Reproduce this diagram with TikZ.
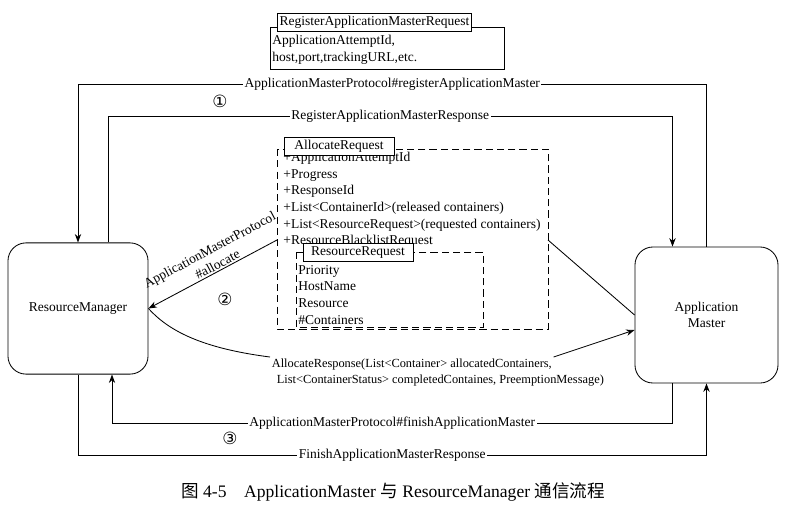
\documentclass[tikz,border=0pt]{standalone}
\usepackage{fontspec}
\setmainfont{Liberation Serif}
\newfontfamily\cjkfont{Noto Sans CJK SC}
\newfontfamily\circfont{DejaVu Sans}
\usetikzlibrary{arrows.meta,calc}

\tikzset{
  lbl/.style={fill=white, inner sep=1pt},
  hostbox/.style={draw, rounded corners=0.45cm, align=center},
  titlebox/.style={draw, fill=white, inner sep=1.5pt, minimum height=0.45cm},
  dashbox/.style={dash pattern=on 5pt off 3pt},
  body/.style={anchor=north west, align=left, inner sep=0pt},
  resptext/.style={anchor=north west, inner sep=1pt, font=\fontsize{8.8}{11}\selectfont},
  stepnum/.style={font=\circfont\fontsize{12}{14}\selectfont},
}

\begin{document}
\begin{tikzpicture}[x=0.025cm, y=-0.025cm, >={Stealth[length=6pt,width=4.5pt]}, line width=0.6pt,
    font=\fontsize{9.6}{11.8}\selectfont]
    \useasboundingbox (0,0) rectangle (792,508);

    % Hosts
    \node[hostbox, minimum width=3.5cm, minimum height=3.28cm] (rm) at (78,308.5) {ResourceManager};
    \node[hostbox, minimum width=3.575cm, minimum height=3.4cm] (am) at (706.5,315) {Application\\Master};

    % Step 1: register
    \draw (270,27) rectangle (504,69);
    \node[body] (regbody) at (272,35) {ApplicationAttemptId,\\host,port,trackingURL,etc.};
    \node[titlebox] (regtitle) at (374.5,22) {RegisterApplicationMasterRequest};

    \draw[->] (am.north) -- ++(0,-162) -| node[lbl, pos=0.25] {ApplicationMasterProtocol\#registerApplicationMaster} (rm.north);
    \draw[->] ($(rm.north)+(30,0)$) -- ++(0,-126) -| node[lbl, pos=0.25] {RegisterApplicationMasterResponse} ($(am.north)+(-34,0)$);
    \node[stepnum] (one) at (220,101) {①};

    % Step 2: allocate
    \draw[dashbox] (277,149) rectangle (548,329);
    \node[body] (allocbody) at (283,152) {+ApplicationAttemptId\\+Progress\\+ResponseId\\+List<ContainerId>(released containers)\\+List<ResourceRequest>(requested containers)\\+ResourceBlacklistRequest};
    \node[titlebox, minimum width=2.75cm] (alloctitle) at (339,146) {AllocateRequest};

    \draw[dashbox] (296,252) rectangle (483,327);
    \node[body] (resbody) at (298,265) {Priority\\HostName\\Resource\\\#Containers};
    \node[titlebox, minimum width=2.75cm] (restitle) at (358,252.5) {ResourceRequest};

    \coordinate (allocin) at (277,240);
    \coordinate (allocout) at (548,240);
    \draw[->] (allocin) -- node[sloped, above, pos=0.44, align=center, inner sep=1pt] {ApplicationMasterProtocol\\\#allocate} (rm.east);
    \draw (allocout) -- (am.west);
    \node[stepnum] (two) at (225,299) {②};

    \node[resptext] (resp1) at (270,357) {AllocateResponse(List<Container> allocatedContainers,};
    \node[resptext] (resp2) at (275,373) {List<ContainerStatus> completedContaines, PreemptionMessage)};
    \draw (rm.east) .. controls (168,330) and (200,348) .. (resp1.north west);
    \draw[->] (resp1.north east) -- ($(am.west)+(0,15)$);

    % Step 3: finish
    \draw[->] ($(am.south)+(-34,0)$) -- ++(0,40) -| node[lbl, pos=0.25] {ApplicationMasterProtocol\#finishApplicationMaster} ($(rm.south)+(34,0)$);
    \draw[->] (rm.south) -- ++(0,81) -| node[lbl, pos=0.25] {FinishApplicationMasterResponse} (am.south);
    \node[stepnum] (three) at (230,438) {③};

    % Caption
    \node (caption) at (393,492) {\fontsize{12.5}{14}\selectfont{\cjkfont 图} 4-5\quad ApplicationMaster {\cjkfont 与} ResourceManager {\cjkfont 通信流程}};
\end{tikzpicture}
\end{document}
